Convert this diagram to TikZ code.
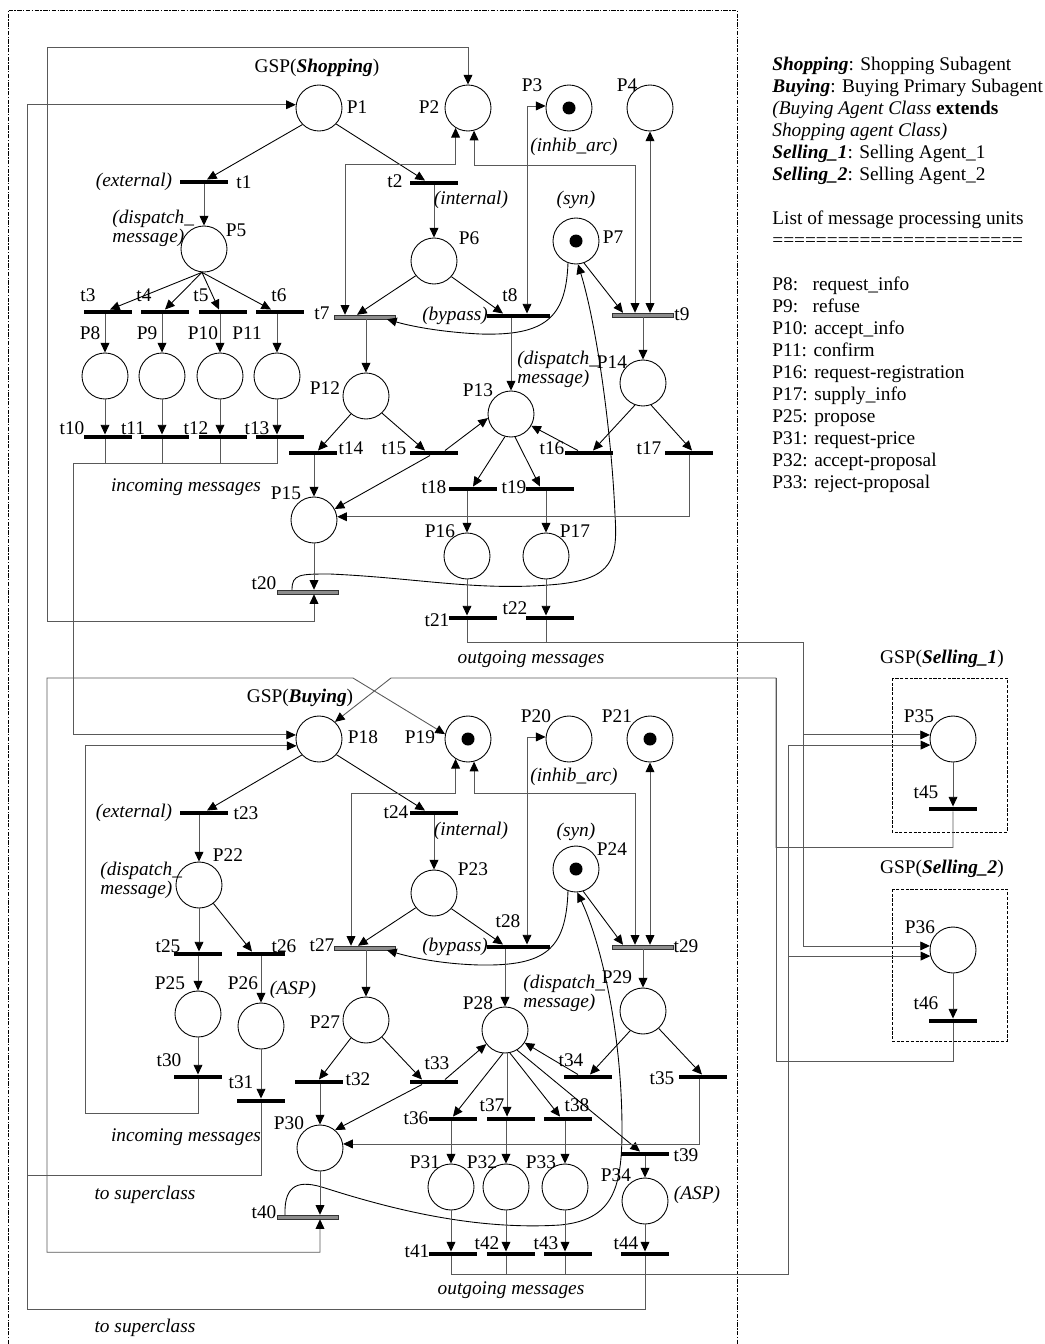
\documentclass[tikz,border=0pt]{standalone}
\usepackage{fontspec}
\setmainfont{Liberation Serif}
\usetikzlibrary{arrows.meta, positioning}
\newcommand{\lblsize}{\fontsize{11}{12.5}\selectfont}
\tikzset{
  place/.style ={draw, circle, minimum size=9.2mm, inner sep=0pt, line width=0.5pt},
  marked/.style={place, path picture={\fill (path picture bounding box.center) circle[radius=1.3mm];}},
  trans/.style ={fill=black, minimum width=9.6mm, minimum height=0.85mm, inner sep=0pt},
  transw/.style={trans, minimum width=12.6mm},
  transg/.style={draw=black!80, fill=black!45, line width=0.4pt,
                 minimum width=12.2mm, minimum height=0.75mm, inner sep=0pt},
  arc/.style   ={-{Triangle[length=5.5pt, width=5pt, color=black]}, line width=0.5pt},
  varc/.style  ={arc, black!65},
  dbl/.style   ={{Triangle[length=5.5pt, width=5pt, color=black]}-{Triangle[length=5.5pt, width=5pt, color=black]},
                 line width=0.5pt, black!65},
  wire/.style  ={line width=0.5pt, black!65},
  lbl/.style   ={font=\lblsize},
  note/.style  ={font=\lblsize\itshape},
  note2/.style ={anchor=west, align=left, inner sep=0pt, font=\fontsize{11}{10.8}\selectfont\itshape},
  frame/.style ={line width=0.5pt, dash pattern=on 2.5pt off 0.8pt on 0.8pt off 0.8pt},
  subbox/.style={line width=0.5pt, dash pattern=on 1.8pt off 0.9pt},
}

\begin{document}
\begin{tikzpicture}[x=0.2mm, y=-0.2mm]
  \useasboundingbox (0,0) rectangle (1045,1344);
  \draw[frame] (8,1344) -- (8,10) -- (737,10) -- (737,1344);
  \draw[subbox] (892,678) rectangle (1007,832);
  \draw[subbox] (892,889) rectangle (1007,1041);

  % bend points of the long connectors
  \coordinate (shopC) at (47,47);
  \coordinate (buyC)  at (47,678);
  \coordinate (buyD)  at (353,678);
  \coordinate (selC)  at (776,678);
  \coordinate (selD)  at (391,678);
  \coordinate (inS)   at (73,463);
  \coordinate (inB)   at (85,1113);
  \coordinate (supA)  at (27,1175);
  \coordinate (supB)  at (27,1309);
  \coordinate (outS)  at (803,642);
  \coordinate (outB)  at (788,1274);

  % ---------------- GSP(Shopping) ----------------
  \node[place]  (P1)  at (319,108) {};
  \node[place]  (P2)  at (468,108) {};
  \node[marked] (P3)  at (569,108) {};
  \node[place]  (P4)  at (650,108) {};
  \node[place]  (P5)  at (204,249) {};
  \node[place]  (P6)  at (434,261) {};
  \node[marked] (P7)  at (576,241) {};
  \node[place]  (P8)  at (105,376) {};
  \node[place]  (P9)  at (162,376) {};
  \node[place]  (P10) at (220,376) {};
  \node[place]  (P11) at (277,376) {};
  \node[place]  (P12) at (366,396) {};
  \node[place]  (P13) at (511,414) {};
  \node[place]  (P14) at (643,383) {};
  \node[place]  (P15) at (314,520) {};
  \node[place]  (P16) at (467,556) {};
  \node[place]  (P17) at (546,556) {};

  \node[trans]  (t1)  at (204,182) {};
  \node[trans]  (t2)  at (434,183) {};
  \node[trans]  (t3)  at (108,312) {};
  \node[trans]  (t4)  at (165,312) {};
  \node[trans]  (t5)  at (223,312) {};
  \node[trans]  (t6)  at (280,312) {};
  \node[transg] (t7)  at (365,317) {};
  \node[transw] (t8)  at (518,316) {};
  \node[transg] (t9)  at (643,315) {};
  \node[trans]  (t10) at (108,437) {};
  \node[trans]  (t11) at (165,437) {};
  \node[trans]  (t12) at (223,437) {};
  \node[trans]  (t13) at (280,437) {};
  \node[trans]  (t14) at (313,453) {};
  \node[trans]  (t15) at (434,453) {};
  \node[trans]  (t16) at (589,453) {};
  \node[trans]  (t17) at (689,453) {};
  \node[trans]  (t18) at (473,489) {};
  \node[trans]  (t19) at (550,489) {};
  \node[transg] (t20) at (308,592) {};
  \node[trans]  (t21) at (473,618) {};
  \node[trans]  (t22) at (550,618) {};

  \draw[arc]  (P1.225) -- ([xshift=0.6mm]t1.north);
  \draw[arc]  (P1.-43) -- ([xshift=-1.8mm]t2.north);
  \draw[varc] (t1.south -| P5) -- (P5.north);
  \draw[arc]  (P5.265) -- ([xshift=0.4mm]t3.north);
  \draw[arc]  (P5.265) -- (t4.north);
  \draw[arc]  (P5.265) -- ([xshift=-0.8mm]t5.north);
  \draw[arc]  (P5.265) -- ([xshift=-1.8mm]t6.north);
  \draw[varc] (t3.south -| P8) -- (P8.north);
  \draw[varc] (t4.south -| P9) -- (P9.north);
  \draw[varc] (t5.south -| P10) -- (P10.north);
  \draw[varc] (t6.south -| P11) -- (P11.north);
  \draw[varc] (P8.south) -- (P8 |- t10.north);
  \draw[varc] (P9.south) -- (P9 |- t11.north);
  \draw[varc] (P10.south) -- (P10 |- t12.north);
  \draw[varc] (P11.south) -- (P11 |- t13.north);
  \draw[wire] (P8 |- t10.south) -- (P8 |- inS);
  \draw[wire] (P9 |- t11.south) -- (P9 |- inS);
  \draw[wire] (P10 |- t12.south) -- (P10 |- inS);
  \draw[varc] (t2.south -| P6) -- (P6.north);
  \draw[dbl]  (P2.238) -- ++(0,37) -| ([xshift=-4mm]t7.north);
  \draw[dbl]  (P2.-75) -- ++(0,35) -| ([xshift=-1.6mm]t9.north);
  \draw[dbl]  ([xshift=1.8mm]t8.north) |- (P3.175);
  \draw[dbl]  (P4.south) -- (P4.south |- t9.north);
  \draw[arc]  (P6.219) -- ([xshift=-1.6mm]t7.north);
  \draw[arc]  (P6.-42) -- ([xshift=-3mm]t8.north);
  \draw[arc]  (P7.-70) -- ([xshift=-4mm]t9.north);
  \draw[arc]  (P7.250) .. controls (566,318) and (545,336) .. (480,334)
              .. controls (440,332) and (410,326) .. ([xshift=4.4mm]t7.south);
  \draw[arc]  ([xshift=-3.2mm]t20.north) .. controls (292,574) and (300,574) .. (330,574)
              .. controls (420,578) and (480,592) .. (560,584)
              .. controls (612,578) and (618,560) .. (615,515)
              .. controls (612,440) and (598,330) .. (P7.-85);
  \draw[varc] (t7.south -| P12) -- (P12.north);
  \draw[varc] (t8.south -| P13) -- (P13.north);
  \draw[varc] (t9.south -| P14) -- (P14.north);
  \draw[arc]  (P12.230) -- ([xshift=1mm]t14.north);
  \draw[arc]  (P12.-47) -- ([xshift=-1.8mm]t15.north);
  \draw[arc]  ([xshift=2.2mm]t15.north) -- (P13.190);
  \draw[arc]  ([xshift=-0.8mm]t15.south) -- (P15.28);
  \draw[arc]  (P13.255) -- (t18.north);
  \draw[arc]  (P13.-80) -- ([xshift=-2mm]t19.north);
  \draw[arc]  (P14.250) -- ([xshift=0.8mm]t16.north);
  \draw[arc]  ([xshift=-2.2mm]t16.north) -- (P13.-30);
  \draw[arc]  (P14.-70) -- ([xshift=0.6mm]t17.north);
  \draw[varc] (t17.south) |- (P15.8);
  \draw[varc] (t14.south -| P15) -- (P15.north);
  \draw[varc] (t18.south -| P16) -- (P16.north);
  \draw[varc] (t19.south -| P17) -- (P17.north);
  \draw[varc] (P16.south) -- (P16 |- t21.north);
  \draw[varc] (P17.south) -- (P17 |- t22.north);
  \draw[wire] (P17 |- t22.south) -- (P17 |- outS);
  \draw[varc] (P15.south) -- (P15 |- t20.north);
  \draw[dbl]  (P15 |- t20.south) -- ++(0,27) -| (shopC) -| (P2.north);

  \node[lbl]  (gspS) at (317,68)  {GSP(\textbf{\textit{Shopping}})};
  \node[lbl]  (lP1)  at (357,107) {P1};
  \node[lbl]  (lP2)  at (429,107) {P2};
  \node[lbl]  (lP3)  at (532,85)  {P3};
  \node[note] (nP3)  at (574,147) {(inhib\_arc)};
  \node[lbl]  (lP4)  at (627,85)  {P4};
  \node[note] (nt1)  at (134,182) {(external)};
  \node[lbl]  (lt1)  at (244,182) {t1};
  \node[lbl]  (lt2)  at (395,181) {t2};
  \node[note] (nt2)  at (471,200) {(internal)};
  \node[note2] (nP5) at (112,228) {(dispatch\_\\message)};
  \node[lbl]  (lP5)  at (236,230) {P5};
  \node[lbl]  (lP6)  at (469,238) {P6};
  \node[note] (nP7)  at (576,200) {(syn)};
  \node[lbl]  (lP7)  at (613,237) {P7};
  \node[lbl]  (lt3)  at (88,295)  {t3};
  \node[lbl]  (lt4)  at (144,295) {t4};
  \node[lbl]  (lt5)  at (201,295) {t5};
  \node[lbl]  (lt6)  at (279,295) {t6};
  \node[lbl]  (lt7)  at (322,313) {t7};
  \node[lbl]  (lt8)  at (510,295) {t8};
  \node[note] (nt8)  at (455,316) {(bypass)};
  \node[lbl]  (lt9)  at (682,314) {t9};
  \node[lbl]  (lP8)  at (90,333)  {P8};
  \node[lbl]  (lP9)  at (147,333) {P9};
  \node[lbl]  (lP10) at (203,333) {P10};
  \node[lbl]  (lP11) at (247,333) {P11};
  \node[lbl]  (lP12) at (325,388) {P12};
  \node[note2] (nP13) at (517,369) {(dispatch\_\\message)};
  \node[lbl]  (lP13) at (478,390) {P13};
  \node[lbl]  (lP14) at (612,362) {P14};
  \node[lbl]  (lt10) at (72,428)  {t10};
  \node[lbl]  (lt11) at (133,428) {t11};
  \node[lbl]  (lt12) at (196,428) {t12};
  \node[lbl]  (lt13) at (257,428) {t13};
  \node[lbl]  (lt14) at (351,448) {t14};
  \node[lbl]  (lt15) at (394,448) {t15};
  \node[lbl]  (lt16) at (552,448) {t16};
  \node[lbl]  (lt17) at (649,448) {t17};
  \node[note] (inc1) at (186,487) {incoming messages};
  \node[lbl]  (lt18) at (434,487) {t18};
  \node[lbl]  (lt19) at (514,487) {t19};
  \node[lbl]  (lP15) at (286,493) {P15};
  \node[lbl]  (lP16) at (440,531) {P16};
  \node[lbl]  (lP17) at (575,531) {P17};
  \node[lbl]  (lt20) at (264,583) {t20};
  \node[lbl]  (lt21) at (437,620) {t21};
  \node[lbl]  (lt22) at (515,608) {t22};
  \node[note] (out1) at (531,659) {outgoing messages};

  % ---------------- GSP(Buying) ----------------
  \node[place]  (P18) at (319,739) {};
  \node[marked] (P19) at (468,739) {};
  \node[place]  (P20) at (569,739) {};
  \node[marked] (P21) at (650,739) {};
  \node[place]  (P22) at (199,885) {};
  \node[place]  (P23) at (434,893) {};
  \node[marked] (P24) at (576,869) {};
  \node[place]  (P25) at (198,1014) {};
  \node[place]  (P26) at (261,1026) {};
  \node[place]  (P27) at (366,1020) {};
  \node[place]  (P28) at (505,1030) {};
  \node[place]  (P29) at (643,1011) {};
  \node[place]  (P30) at (320,1148) {};
  \node[place]  (P31) at (451,1187) {};
  \node[place]  (P32) at (506,1187) {};
  \node[place]  (P33) at (565,1187) {};
  \node[place]  (P34) at (645,1201) {};

  \node[trans]  (t23) at (204,813) {};
  \node[trans]  (t24) at (434,813) {};
  \node[trans]  (t25) at (198,954) {};
  \node[trans]  (t26) at (261,954) {};
  \node[transg] (t27) at (365,948) {};
  \node[transw] (t28) at (518,947) {};
  \node[transg] (t29) at (643,947) {};
  \node[trans]  (t30) at (198,1077) {};
  \node[trans]  (t31) at (261,1101) {};
  \node[trans]  (t32) at (319,1082) {};
  \node[trans]  (t33) at (434,1082) {};
  \node[trans]  (t34) at (588,1077) {};
  \node[trans]  (t35) at (703,1077) {};
  \node[trans]  (t36) at (453,1119) {};
  \node[trans]  (t37) at (511,1119) {};
  \node[trans]  (t38) at (568,1119) {};
  \node[trans]  (t39) at (645,1154) {};
  \node[transg] (t40) at (308,1217) {};
  \node[trans]  (t41) at (453,1254) {};
  \node[trans]  (t42) at (511,1254) {};
  \node[trans]  (t43) at (568,1254) {};
  \node[trans]  (t44) at (645,1254) {};

  \draw[arc]  (P18.223) -- ([xshift=0.6mm]t23.north);
  \draw[arc]  (P18.-42) -- ([xshift=-1.8mm]t24.north);
  \draw[varc] (t23.south -| P22) -- (P22.north);
  \draw[varc] (t24.south -| P23) -- (P23.north);
  \draw[dbl]  (P19.238) -- ++(0,35) -| ([xshift=-2.8mm]t27.north);
  \draw[dbl]  (P19.-75) -- ++(0,32) -| ([xshift=-1.6mm]t29.north);
  \draw[dbl]  ([xshift=1.8mm]t28.north) |- (P20.175);
  \draw[dbl]  (P21.south) -- (P21.south |- t29.north);
  \draw[arc]  (P23.219) -- ([xshift=-1.4mm]t27.north);
  \draw[arc]  (P23.-42) -- ([xshift=-3mm]t28.north);
  \draw[arc]  (P24.-72) -- ([xshift=-4mm]t29.north);
  \draw[arc]  (P24.250) .. controls (566,950) and (545,966) .. (480,965)
              .. controls (440,964) and (410,957) .. ([xshift=4.4mm]t27.south);
  \draw[arc]  ([xshift=-4.6mm]t40.north) .. controls (284,1183) and (300,1180) .. (325,1188)
              .. controls (400,1212) and (480,1230) .. (560,1225)
              .. controls (612,1220) and (622,1190) .. (622,1130)
              .. controls (622,1030) and (600,940) .. (P24.-87);
  \draw[varc] (t27.south -| P27) -- (P27.north);
  \draw[varc] (t28.south -| P28) -- (P28.north);
  \draw[varc] (t29.south -| P29) -- (P29.north);
  \draw[varc] (P22.south) -- (P22.south |- t25.north);
  \draw[arc]  (P22.-52) -- ([xshift=-1.8mm]t26.north);
  \draw[varc] (t25.south -| P25) -- (P25.north);
  \draw[varc] (t26.south -| P26) -- (P26.north);
  \draw[varc] (P25.south) -- (P25 |- t30.north);
  \draw[varc] (P26.south) -- (P26 |- t31.north);
  \draw[varc] (P25 |- t30.south) |- (inB) |- (P18.197);
  \draw[wire] (P26 |- t31.south) |- (supA);
  \draw[varc] (P34 |- t44.south) |- (supB) |- (P1.172);
  \draw[arc]  (P27.230) -- (t32.north);
  \draw[arc]  (P27.-47) -- ([xshift=-2.4mm]t33.north);
  \draw[arc]  ([xshift=2.2mm]t33.north) -- (P28.217);
  \draw[arc]  ([xshift=-2.4mm]t33.south) -- (P30.50);
  \draw[varc] (t32.south -| P30) -- (P30.north);
  \draw[arc]  (P28.265) -- (t36.north);
  \draw[varc] (P28.-85) -- (P28.-85 |- t37.north);
  \draw[arc]  (P28.-78) -- ([xshift=-1.6mm]t38.north);
  \draw[arc]  (P28.-59) -- ([xshift=-1mm]t39.north);
  \draw[arc]  (P29.237) -- ([xshift=0.4mm]t34.north);
  \draw[arc]  ([xshift=-2mm]t34.north) -- (P28.-33);
  \draw[arc]  (P29.-48) -- ([xshift=-0.2mm]t35.north);
  \draw[varc] ([xshift=-0.8mm]t35.south) |- (P30.10);
  \draw[varc] (t36.south -| P31) -- (P31.north);
  \draw[varc] (t37.south -| P32) -- (P32.north);
  \draw[varc] (t38.south -| P33) -- (P33.north);
  \draw[varc] (t39.south -| P34) -- (P34.north);
  \draw[varc] (P31.south) -- (P31 |- t41.north);
  \draw[varc] (P32.south) -- (P32 |- t42.north);
  \draw[varc] (P33.south) -- (P33 |- t43.north);
  \draw[varc] (P34.south) -- (P34 |- t44.north);
  \draw[wire] (P32 |- t42.south) -- (P32 |- outB);
  \draw[wire] (P33 |- t43.south) -- (P33 |- outB);
  \draw[varc] (P30.south) -- (P30 |- t40.north);
  \draw[dbl]  (P30 |- t40.south) -- ++(0,33) -| (buyC) -- (buyD) -- (P19.168);

  \node[lbl]  (gspB) at (300,698)  {GSP(\textbf{\textit{Buying}})};
  \node[lbl]  (lP18) at (363,737)  {P18};
  \node[lbl]  (lP19) at (420,737)  {P19};
  \node[lbl]  (lP20) at (536,716)  {P20};
  \node[lbl]  (lP21) at (617,716)  {P21};
  \node[note] (nP20) at (574,777)  {(inhib\_arc)};
  \node[note] (nt23) at (134,813)  {(external)};
  \node[lbl]  (lt23) at (246,813)  {t23};
  \node[lbl]  (lt24) at (396,812)  {t24};
  \node[note] (nt24) at (471,831)  {(internal)};
  \node[note] (nP24) at (576,832)  {(syn)};
  \node[lbl]  (lP24) at (612,849)  {P24};
  \node[lbl]  (lP22) at (228,855)  {P22};
  \node[note2] (nP22) at (100,880) {(dispatch\_\\message)};
  \node[lbl]  (lP23) at (473,869)  {P23};
  \node[lbl]  (lt28) at (508,921)  {t28};
  \node[lbl]  (lt25) at (168,946)  {t25};
  \node[lbl]  (lt26) at (284,946)  {t26};
  \node[lbl]  (lt27) at (322,945)  {t27};
  \node[note] (nt28) at (455,947)  {(bypass)};
  \node[lbl]  (lt29) at (686,946)  {t29};
  \node[lbl]  (lP29) at (617,977)  {P29};
  \node[note2] (nP28) at (523,993) {(dispatch\_\\message)};
  \node[lbl]  (lP25) at (170,983)  {P25};
  \node[lbl]  (lP26) at (243,983)  {P26};
  \node[note] (nP26) at (293,990)  {(ASP)};
  \node[lbl]  (lP28) at (478,1003) {P28};
  \node[lbl]  (lP27) at (325,1022) {P27};
  \node[lbl]  (lt30) at (169,1060) {t30};
  \node[lbl]  (lt34) at (571,1060) {t34};
  \node[lbl]  (lt33) at (437,1063) {t33};
  \node[lbl]  (lt32) at (358,1079) {t32};
  \node[lbl]  (lt35) at (662,1078) {t35};
  \node[lbl]  (lt31) at (241,1082) {t31};
  \node[lbl]  (lt37) at (492,1105) {t37};
  \node[lbl]  (lt38) at (577,1105) {t38};
  \node[lbl]  (lt36) at (416,1118) {t36};
  \node[lbl]  (lP30) at (289,1123) {P30};
  \node[note] (inc2) at (186,1137) {incoming messages};
  \node[lbl]  (lt39) at (686,1155) {t39};
  \node[lbl]  (lP31) at (425,1162) {P31};
  \node[lbl]  (lP32) at (482,1162) {P32};
  \node[lbl]  (lP33) at (541,1162) {P33};
  \node[lbl]  (lP34) at (616,1175) {P34};
  \node[note] (sup1) at (145,1195) {to superclass};
  \node[note] (nP34) at (697,1195) {(ASP)};
  \node[lbl]  (lt40) at (264,1212) {t40};
  \node[lbl]  (lt42) at (487,1243) {t42};
  \node[lbl]  (lt43) at (546,1243) {t43};
  \node[lbl]  (lt44) at (626,1243) {t44};
  \node[lbl]  (lt41) at (417,1251) {t41};
  \node[note] (out2) at (511,1290) {outgoing messages};
  \node[note] (sup2) at (145,1328) {to superclass};

  % ---------------- GSP(Selling_1), GSP(Selling_2) ----------------
  \node[place] (P35) at (953,739)  {};
  \node[trans] (t45) at (953,809)  {};
  \node[place] (P36) at (953,950)  {};
  \node[trans] (t46) at (953,1021) {};
  \draw[varc] (P35.south) -- (t45.north);
  \draw[varc] (P36.south) -- (t46.north);

  \node[lbl] (gspS1) at (942,659)  {GSP(\textbf{\textit{Selling\_1}})};
  \node[lbl] (lP35)  at (919,716)  {P35};
  \node[lbl] (lt45)  at (926,792)  {t45};
  \node[lbl] (gspS2) at (942,869)  {GSP(\textbf{\textit{Selling\_2}})};
  \node[lbl] (lP36)  at (920,927)  {P36};
  \node[lbl] (lt46)  at (926,1003) {t46};

  % message flow between the agents
  \draw[varc] (P11 |- t13.south) |- (inS) |- (P18.170);
  \draw[varc] (P16 |- t21.south) |- (outS) |- (P36.170);
  \draw[varc] (outS |- P35.170) -- (P35.170);
  \draw[varc] (P31 |- t41.south) |- (outB) |- (P35.195);
  \draw[varc] (outB |- P36.195) -- (P36.195);
  \draw[varc] (t45.south) -- ++(0,36) -| (selC) -- (selD) -- (P18.47);
  \draw[wire] (t46.south) -- ++(0,38) -| (selC);

  % ---------------- legend ----------------
  \node[lbl, anchor=north west, align=left, inner sep=0pt] (legend) at (772,57) {%
    \textbf{\textit{Shopping}}: Shopping Subagent\\
    \textbf{\textit{Buying}}: Buying Primary Subagent\\
    \textit{(Buying Agent Class} \textbf{extends}\\
    \textit{Shopping agent Class)}\\
    \textbf{\textit{Selling\_1}}: Selling Agent\_1\\
    \textbf{\textit{Selling\_2}}: Selling Agent\_2\\[12.5pt]
    List of message processing units\\
    =======================\\[12.5pt]
    P8:\hphantom{0} request\_info\\
    P9:\hphantom{0} refuse\\
    P10: accept\_info\\
    P11: confirm\\
    P16: request-registration\\
    P17: supply\_info\\
    P25: propose\\
    P31: request-price\\
    P32: accept-proposal\\
    P33: reject-proposal};
\end{tikzpicture}
\end{document}
